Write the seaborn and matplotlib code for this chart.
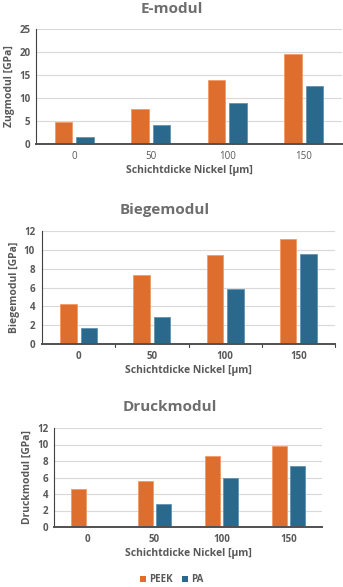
import matplotlib
matplotlib.use("Agg")
import matplotlib.pyplot as plt
import seaborn as sns
import pandas as pd
from matplotlib.patches import Patch

categories = ["0", "50", "100", "150"]
series = ["PEEK", "PA"]
emod_peek = [4.8, 7.7, 14.0, 19.5]
emod_pa = [1.5, 4.1, 8.9, 12.6]
biege_peek = [4.3, 7.3, 9.45, 11.2]
biege_pa = [1.7, 2.9, 5.8, 9.6]
druck_peek = [4.55, 5.55, 8.55, 9.8]
druck_pa = [0.0, 2.75, 5.95, 7.4]
titles = ["E-modul", "Biegemodul", "Druckmodul"]
ylabels = ["Zugmodul [GPa]", "Biegemodul [GPa]", "Druckmodul [GPa]"]
xlabel = "Schichtdicke Nickel [µm]"
yticks_list = [[0, 5, 10, 15, 20, 25], [0, 2, 4, 6, 8, 10, 12], [0, 2, 4, 6, 8, 10, 12]]

sns.set_theme(style="white")
plt.rcParams['font.family'] = ['Open Sans', 'DejaVu Sans']

colors = {"PEEK": "#DE6E2E", "PA": "#2B698C"}
edges = {"PEEK": "#F09A66", "PA": "#5F93B3"}
text_c = "#595959"
title_c = "#6E6E6E"

W, H = 343, 587
fig = plt.figure(figsize=(W / 100, H / 100), dpi=100)

def frac(l, r, t, b):
    return [l / W, 1 - b / H, (r - l) / W, (b - t) / H]

rects = [frac(36, 342, 29, 144), frac(42, 335, 231, 344), frac(54, 322, 428, 527)]
title_pos = [(172, 9), (165, 210), (170, 407)]
data = [(emod_peek, emod_pa), (biege_peek, biege_pa), (druck_peek, druck_pa)]

for i in range(3):
    ax = fig.add_axes(rects[i])
    peek, pa = data[i]
    df = pd.DataFrame({
        "cat": categories * 2,
        "series": ["PEEK"] * 4 + ["PA"] * 4,
        "val": peek + pa,
    })
    sns.barplot(data=df, x="cat", y="val", hue="series", order=categories,
                hue_order=series, palette=colors, width=0.56, gap=0.2,
                ax=ax, legend=False, saturation=1)
    for j, patch in enumerate(ax.patches):
        s = series[0] if j < 4 else series[1]
        patch.set_edgecolor(edges[s])
        patch.set_linewidth(0.6)
    yt = yticks_list[i]
    ax.set_ylim(0, yt[-1])
    ax.set_yticks(yt)
    ax.set_xlim(-0.5, 3.5)
    ax.yaxis.grid(True, color="#D9D9D9", linewidth=0.8)
    ax.set_axisbelow(True)
    for sp in ["top", "right"]:
        ax.spines[sp].set_visible(False)
    ax.spines["left"].set_color("#404040")
    ax.spines["left"].set_linewidth(0.8)
    ax.spines["bottom"].set_color("#505050")
    ax.spines["bottom"].set_linewidth(1.4)
    ax.set_xlabel(xlabel, fontsize=7.5, fontweight="bold", color=text_c, labelpad=2)
    ax.set_ylabel(ylabels[i], fontsize=7.5, fontweight="bold", color=text_c, labelpad=3)
    xw = "normal" if i == 0 else "bold"
    ax.tick_params(axis="x", labelsize=7, colors=text_c, length=0, pad=5)
    ax.tick_params(axis="y", labelsize=7, colors=text_c, length=3 if i == 1 else 0,
                   width=0.8, pad=2 if i == 1 else 4)
    for lab in ax.get_xticklabels():
        lab.set_fontweight(xw)
    for lab in ax.get_yticklabels():
        lab.set_fontweight("bold")
    if i == 1:
        for xb in [0.5, 1.5, 2.5, 3.5]:
            ax.plot([xb, xb], [0, -0.35], color="#404040", lw=0.8, clip_on=False)
    tx, ty = title_pos[i]
    fig.text(tx / W, 1 - ty / H, titles[i], ha="center", va="center",
             fontsize=11, fontweight="bold", color=title_c)

handles = [Patch(facecolor=colors[s], edgecolor="none", label=s) for s in series]
fig.legend(handles=handles, loc="center", bbox_to_anchor=(172 / W, 1 - 580 / H),
           ncol=2, frameon=False, handlelength=0.6, handleheight=0.6,
           handletextpad=0.3, columnspacing=1.0, prop={"weight": "bold", "size": 7})
for t in fig.legends[0].get_texts():
    t.set_color(text_c)

fig.savefig("out.png", dpi=100)
